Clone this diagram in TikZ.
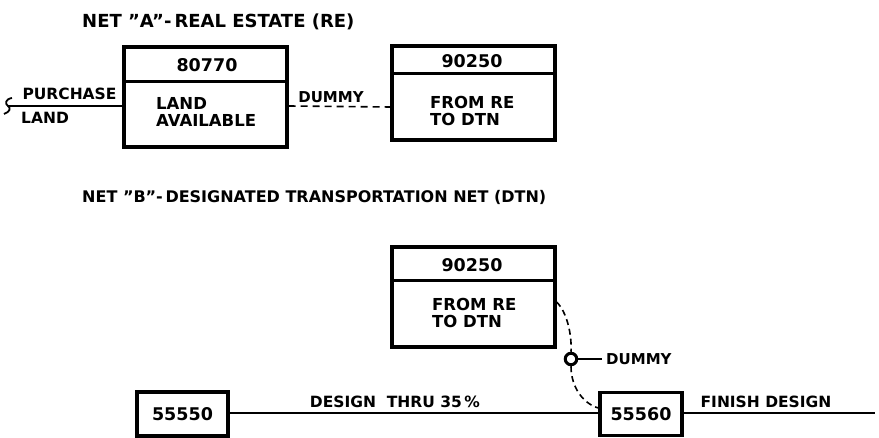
\documentclass[tikz,border=0pt]{standalone}
\usepackage{fontspec}
\setmainfont{DejaVu Sans}
\usetikzlibrary{calc}
\newcommand{\dq}{\char34\relax}
\begin{document}
\begin{tikzpicture}[x=1pt,y=-1pt,
  every node/.style={inner sep=0pt, font=\bfseries\fontsize{15.5}{16}\selectfont},
  boxframe/.style={draw, line width=3.2pt, inner sep=0pt},
  divider/.style={line width=2.6pt},
  conn/.style={line width=1.8pt},
  dum/.style={line width=1.6pt, dash pattern=on 7pt off 5pt},
  num/.style={font=\bfseries\fontsize{17.5}{18}\selectfont},
  inner/.style={align=left, anchor=west, font=\bfseries\fontsize{16.5}{16.5}\selectfont},
  ttlA/.style={anchor=west, font=\bfseries\fontsize{18}{18}\selectfont},
  ttlB/.style={anchor=west, font=\bfseries\fontsize{16}{16}\selectfont},
  dumlbl/.style={font=\bfseries\fontsize{15}{15}\selectfont}]
\useasboundingbox (0,0) rectangle (879,438);

% titles
\node[ttlA] (tA) at (82,22) {NET \dq A\dq-\,REAL ESTATE (RE)};
\node[ttlB] (tB) at (82,197) {NET \dq B\dq-\,DESIGNATED TRANSPORTATION NET (DTN)};

% net A boxes
\node[boxframe, minimum width=163pt, minimum height=100pt] (b1) at (205.5,97) {};
\draw[divider] ($(b1.north west)+(0,36)$) -- ($(b1.north east)+(0,36)$);
\node[num] (n1) at (207,65) {80770};
\node[inner] (l1) at (156,112) {LAND\\AVAILABLE};

\node[boxframe, minimum width=163pt, minimum height=94pt] (b2) at (473.5,93) {};
\draw[divider] ($(b2.north west)+(0,29)$) -- ($(b2.north east)+(0,29)$);
\node[num] (n2) at (472,61) {90250};
\node[inner] (l2) at (430,111) {FROM RE\\TO DTN};

% purchase land
\coordinate (pl) at (8,106);
\draw[conn] (pl) -- (b1.west |- pl);
\draw[line width=1.8pt] (12,98) .. controls (5,99) and (5,104) .. (pl) .. controls (11,108) and (10,112) .. (4,114);
\node (pu) at (69.5,94) {PURCHASE};
\node[anchor=west] (la) at (21,118) {LAND};

% dummy A
\coordinate (d1) at (b1.east |- 0,106);
\coordinate (d2) at (b2.west |- 0,107);
\draw[dum] (d1) -- (d2);
\node[dumlbl] (du1) at (331,97) {DUMMY};

% net B box
\node[boxframe, minimum width=163pt, minimum height=100pt] (b3) at (473.5,297) {};
\draw[divider] ($(b3.north west)+(0,35)$) -- ($(b3.north east)+(0,35)$);
\node[num] (n3) at (472,265) {90250};
\node[inner] (l3) at (432,313) {FROM RE\\TO DTN};

% dummy node
\node[circle, draw, line width=3pt, minimum size=11.5pt] (c) at (571,359) {};
\coordinate (cd) at (602,359);
\draw[conn] (c.east) -- (cd);
\node[dumlbl, anchor=west] (du2) at (606,359) {DUMMY};

% activity boxes
\node[boxframe, num, minimum width=91pt, minimum height=44pt] (a1) at (182.5,414) {55550};
\node[boxframe, num, minimum width=82pt, minimum height=43pt] (a2) at (641,414) {55560};
\coordinate (end) at (875,413);
\draw[conn] (a1.east |- 0,413) -- (a2.west |- 0,413);
\draw[conn] (a2.east |- 0,413) -- (end);
\node (t1) at (395,402) {DESIGN\ \ THRU 35\,\%};
\node (t2) at (766,402) {FINISH DESIGN};

% dashed dummy curves
\draw[dum, dash pattern=on 6pt off 4pt] (b3.east |- 0,302) .. controls (567,312) and (572,335) .. (c.north);
\draw[dum, dash pattern=on 6pt off 4pt] (c.south) .. controls (571,388) and (584,404) .. (a2.west |- 0,408);
\end{tikzpicture}
\end{document}
